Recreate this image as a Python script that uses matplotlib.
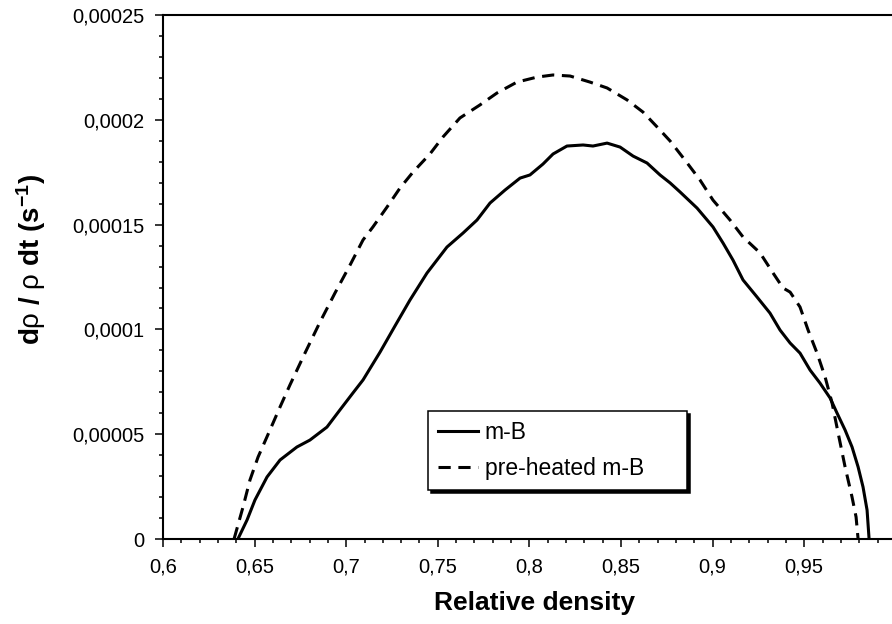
import matplotlib
matplotlib.use("Agg")
import matplotlib.pyplot as plt
from matplotlib.ticker import FixedLocator, FixedFormatter, MultipleLocator

plt.rcParams['font.family'] = ['Liberation Sans', 'DejaVu Sans']
plt.rcParams['mathtext.fontset'] = 'custom'
plt.rcParams['mathtext.rm'] = 'Liberation Sans'
plt.rcParams['mathtext.it'] = 'Liberation Sans:italic'
plt.rcParams['mathtext.bf'] = 'Liberation Sans:bold'

# m-B (solid)
mb_x = [0.6409, 0.6459, 0.6502, 0.6568, 0.6639, 0.6731, 0.6802, 0.6895, 0.6966,
        0.7037, 0.7092, 0.7185, 0.7266, 0.7348, 0.7441, 0.7550, 0.7638, 0.7714,
        0.7785, 0.7867, 0.7949, 0.8003, 0.8074, 0.8129, 0.8205, 0.8293, 0.8347,
        0.8424, 0.8495, 0.8566, 0.8642, 0.8713, 0.8768, 0.8822, 0.8915, 0.9002,
        0.9057, 0.9111, 0.9166, 0.9242, 0.9313, 0.9368, 0.9423, 0.9477, 0.9532,
        0.9586, 0.9641, 0.9679, 0.9723, 0.9761, 0.9794, 0.9821, 0.9843, 0.9854]
mb_y = [0.0, 0.91e-5, 1.86e-5, 2.96e-5, 3.77e-5, 4.39e-5, 4.72e-5, 5.34e-5, 6.16e-5,
        6.97e-5, 7.59e-5, 8.92e-5, 10.16e-5, 11.40e-5, 12.69e-5, 13.93e-5, 14.60e-5, 15.22e-5,
        16.03e-5, 16.65e-5, 17.22e-5, 17.37e-5, 17.89e-5, 18.37e-5, 18.75e-5, 18.80e-5, 18.75e-5,
        18.89e-5, 18.70e-5, 18.27e-5, 17.94e-5, 17.37e-5, 16.99e-5, 16.56e-5, 15.79e-5, 14.89e-5,
        14.12e-5, 13.31e-5, 12.36e-5, 11.55e-5, 10.78e-5, 9.97e-5, 9.35e-5, 8.87e-5, 8.06e-5,
        7.44e-5, 6.73e-5, 6.01e-5, 5.20e-5, 4.39e-5, 3.44e-5, 2.48e-5, 1.38e-5, 0.0]

# pre-heated m-B (dashed)
ph_x = [0.6388, 0.6437, 0.6475, 0.6519, 0.6584, 0.6639, 0.6693, 0.6775, 0.6857,
        0.6939, 0.7021, 0.7092, 0.7146, 0.7223, 0.7294, 0.7365, 0.7457, 0.7528,
        0.7621, 0.7730, 0.7823, 0.7932, 0.8042, 0.8129, 0.8222, 0.8331, 0.8424,
        0.8533, 0.8620, 0.8697, 0.8768, 0.8849, 0.8931, 0.9002, 0.9095, 0.9166,
        0.9259, 0.9330, 0.9384, 0.9423, 0.9477, 0.9521, 0.9570, 0.9614, 0.9652,
        0.9685, 0.9723, 0.9761, 0.9783, 0.9794]
ph_y = [0.0, 1.53e-5, 2.82e-5, 3.91e-5, 5.20e-5, 6.30e-5, 7.35e-5, 8.87e-5, 10.35e-5,
        11.74e-5, 13.07e-5, 14.27e-5, 14.89e-5, 15.84e-5, 16.75e-5, 17.51e-5, 18.37e-5, 19.18e-5,
        20.09e-5, 20.71e-5, 21.28e-5, 21.80e-5, 22.04e-5, 22.14e-5, 22.09e-5, 21.80e-5, 21.52e-5,
        20.95e-5, 20.37e-5, 19.66e-5, 18.99e-5, 18.08e-5, 17.13e-5, 16.17e-5, 15.22e-5, 14.41e-5,
        13.65e-5, 12.69e-5, 11.98e-5, 11.78e-5, 11.07e-5, 9.97e-5, 8.87e-5, 7.73e-5, 6.49e-5,
        5.06e-5, 3.44e-5, 2.00e-5, 1.05e-5, 0.0]

x_ticks = [0.6, 0.65, 0.7, 0.75, 0.8, 0.85, 0.9, 0.95]
x_labels = ['0,6', '0,65', '0,7', '0,75', '0,8', '0,85', '0,9', '0,95']
y_ticks = [0, 0.00005, 0.0001, 0.00015, 0.0002, 0.00025]
y_labels = ['0', '0,00005', '0,0001', '0,00015', '0,0002', '0,00025']

fig = plt.figure(figsize=(8.92, 6.24), dpi=100)
ax = fig.add_axes([0.1827, 0.1362, 0.8216, 0.8397])

ax.plot(mb_x, mb_y, color='black', lw=2.2, label='m-B')
ax.plot(ph_x, ph_y, color='black', lw=2.2, linestyle=(0, (4, 2.5)), label='pre-heated m-B')

ax.set_xlim(0.6, 1.0)
ax.set_ylim(0, 0.00025)
ax.xaxis.set_major_locator(FixedLocator(x_ticks))
ax.xaxis.set_major_formatter(FixedFormatter(x_labels))
ax.yaxis.set_major_locator(FixedLocator(y_ticks))
ax.yaxis.set_major_formatter(FixedFormatter(y_labels))
ax.xaxis.set_minor_locator(MultipleLocator(0.01))
ax.yaxis.set_minor_locator(MultipleLocator(0.00001))

ax.tick_params(which='major', length=5.5, width=1.1, labelsize=14.5, pad=8, direction='out')
ax.tick_params(which='minor', length=3, width=1.1, direction='out')
for s in ['left', 'bottom', 'top']:
    ax.spines[s].set_linewidth(1.5)
ax.spines['right'].set_visible(False)

ax.set_xlabel('Relative density', fontsize=19, fontweight='bold')
ax.xaxis.set_label_coords(0.5075, -0.099)
ax.set_ylabel(r'$\mathbf{d}\mathrm{\rho}\ \mathbf{/}\ \mathrm{\rho}\ \mathbf{dt\ (s^{-1})}$',
              fontsize=20, va='center')
ax.yaxis.set_label_coords(-0.180, 0.534)

leg = ax.legend(loc='lower left', bbox_to_anchor=(0.3615, 0.0935, 0.3533, 0.15),
                mode='expand', borderaxespad=0, fontsize=16.5, fancybox=False,
                edgecolor='black', framealpha=1, handlelength=1.75, handletextpad=0.3,
                labelspacing=0.6, borderpad=0.42,
                shadow={'color': 'black', 'alpha': 1})
leg.get_frame().set_linewidth(1.1)

fig.savefig('out.png', dpi=100)
